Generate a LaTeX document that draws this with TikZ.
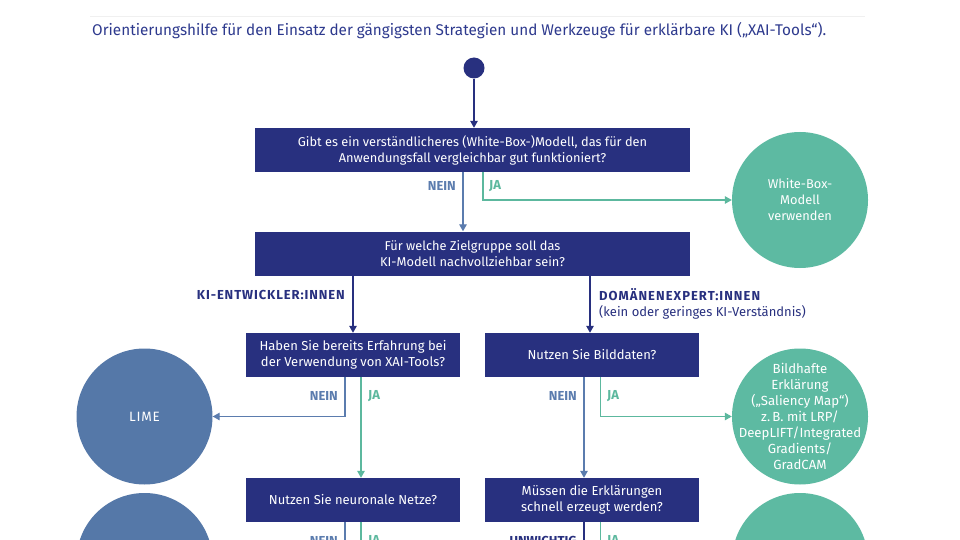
\documentclass[tikz,border=0pt]{standalone}
\usepackage{fontspec}
\setmainfont{Fira Sans}
\usetikzlibrary{arrows.meta}
\definecolor{navy}{HTML}{28307F}
\definecolor{titleblue}{HTML}{2E3A8E}
\definecolor{teal}{HTML}{5DBAA2}
\definecolor{steel}{HTML}{5578A8}
\definecolor{neinc}{HTML}{5B7CAE}
\definecolor{jac}{HTML}{5CB89E}
\tikzset{
  qbox/.style={fill=navy, text=white, minimum height=44pt, align=center, inner sep=0pt,
    font=\fontsize{13}{16}\selectfont},
  wide/.style={qbox, minimum width=435pt, font=\fontsize{12.8}{16}\selectfont},
  narrow/.style={qbox, minimum width=214pt},
  endcirc/.style={circle, minimum size=136pt, inner sep=0pt},
  tealc/.style={endcirc, fill=teal},
  steelc/.style={endcirc, fill=steel},
  circtext/.style={text=white, align=center, inner sep=0pt, font=\fontsize{12.8}{16}\selectfont},
  neinline/.style={draw=neinc, line width=1.3pt, -{Triangle[width=7.5pt,length=7pt]}},
  jaline/.style={draw=jac, line width=1.3pt, -{Triangle[width=7.5pt,length=7pt]}},
  navyline/.style={draw=navy, line width=1.3pt, -{Triangle[width=7.5pt,length=7pt]}},
  neinlab/.style={text=neinc, font=\fontsize{13}{16}\selectfont\bfseries, inner sep=0pt},
  jalab/.style={text=jac, font=\fontsize{13}{16}\selectfont\bfseries, inner sep=0pt},
  grouplab/.style={text=navy, font=\fontsize{13}{16}\selectfont, inner sep=0pt, align=left},
}
\begin{document}
\begin{tikzpicture}[x=1pt,y=-1pt]
\useasboundingbox (0,0) rectangle (960,540);
\clip (0,0) rectangle (960,540);
\fill[white] (0,0) rectangle (960,540);
\draw[gray!12, line width=1pt] (90,17) -- (865,17);
\node[anchor=west, inner sep=0pt, text=titleblue] (title) at (92,31)
  {\resizebox{734pt}{\height}{\fontsize{15.5}{18}\selectfont Orientierungshilfe für den Einsatz der gängigsten Strategien und Werkzeuge für erklärbare KI („XAI-Tools“).}};
\node[circle, fill=navy, minimum size=21pt, inner sep=0pt] (start) at (474,68) {};

\node[wide] (b1) at (472.5,150) {Gibt es ein verständlicheres (White-Box-)Modell, das für den\\Anwendungsfall vergleichbar gut funktioniert?};
\node[wide] (b2) at (472.5,253.5) {Für welche Zielgruppe soll das\\KI-Modell nachvollziehbar sein?};
\node[narrow] (b3) at (353,355) {Haben Sie bereits Erfahrung bei\\der Verwendung von XAI-Tools?};
\node[narrow] (b4) at (592,355) {Nutzen Sie Bilddaten?};
\node[narrow] (b5) at (353,500) {Nutzen Sie neuronale Netze?};
\node[narrow] (b6) at (592,500) {Müssen die Erklärungen\\schnell erzeugt werden?};

\node[tealc] (wb) at (800,200) {};
\node[circtext] (wbt) at (wb) {White-Box-\\Modell\\verwenden};
\node[steelc] (lime) at (144.5,416.5) {};
\node[circtext, font=\fontsize{13.5}{16}\selectfont\addfontfeatures{LetterSpace=6}] (limet) at (lime) {LIME};
\node[tealc] (sal) at (800,416.5) {};
\node[circtext, font=\fontsize{13.2}{16}\selectfont] (salt) at (sal) {Bildhafte\\Erklärung\\(„Saliency Map“)\\z.\,B. mit LRP/\\DeepLIFT/Integrated\\Gradients/\\GradCAM};
\node[steelc] (c4) at (144.5,561) {};
\node[tealc] (c5) at (800,561) {};

\coordinate (b5n) at (345,560);
\coordinate (b5j) at (361,560);
\coordinate (b6n) at (584,560);
\coordinate (b6j) at (600.5,560);

% connectors
\draw[navyline] (start) -- (start |- b1.north);
\draw[neinline] ([xshift=-9.5pt]b1.south) -- ([xshift=-9.5pt]b2.north);
\draw[jaline] ([xshift=10.5pt]b1.south) |- (wb.west);
\draw[navyline] (b2.south -| b3.north) -- (b3.north);
\draw[navyline] ([xshift=-2pt]b2.south -| b4.north) -- ([xshift=-2pt]b4.north);
\draw[neinline] ([xshift=-8pt]b3.south) |- (lime.east);
\draw[jaline] ([xshift=8pt]b3.south) -- ([xshift=8pt]b5.north);
\draw[neinline] ([xshift=-8pt]b4.south) -- ([xshift=-8pt]b6.north);
\draw[jaline] ([xshift=8.5pt]b4.south) |- (sal.west);
\draw[neinline, -] (b5.south -| b5n) -- (b5n);
\draw[jaline, -] (b5.south -| b5j) -- (b5j);
\draw[navyline, -] (b6.south -| b6n) -- (b6n);
\draw[jaline, -] (b6.south -| b6j) -- (b6j);

% labels
\node[neinlab, anchor=east] (l1n) at (456,186) {NEIN};
\node[jalab, anchor=west] (l1j) at (489,186) {JA};
\node[grouplab, anchor=east, font=\fontsize{13}{16}\selectfont\bfseries\addfontfeatures{LetterSpace=7}] (lg1) at (345,295) {KI-ENTWICKLER:INNEN};
\node[grouplab, anchor=north west] (lg2) at (599,288) {{\bfseries\addfontfeatures{LetterSpace=8}DOMÄNENEXPERT:INNEN}\\(kein oder geringes KI-Verständnis)};
\node[neinlab, anchor=east] (l3n) at (338,396) {NEIN};
\node[jalab, anchor=west] (l3j) at (368,396) {JA};
\node[neinlab, anchor=east] (l4n) at (577,396) {NEIN};
\node[jalab, anchor=west] (l4j) at (607,396) {JA};
\node[neinlab, anchor=east] (l5n) at (338,541) {NEIN};
\node[jalab, anchor=west] (l5j) at (368,541) {JA};
\node[neinlab, anchor=east, text=navy] (l6n) at (577,541) {UNWICHTIG};
\node[jalab, anchor=west] (l6j) at (607,541) {JA};
\end{tikzpicture}
\end{document}
